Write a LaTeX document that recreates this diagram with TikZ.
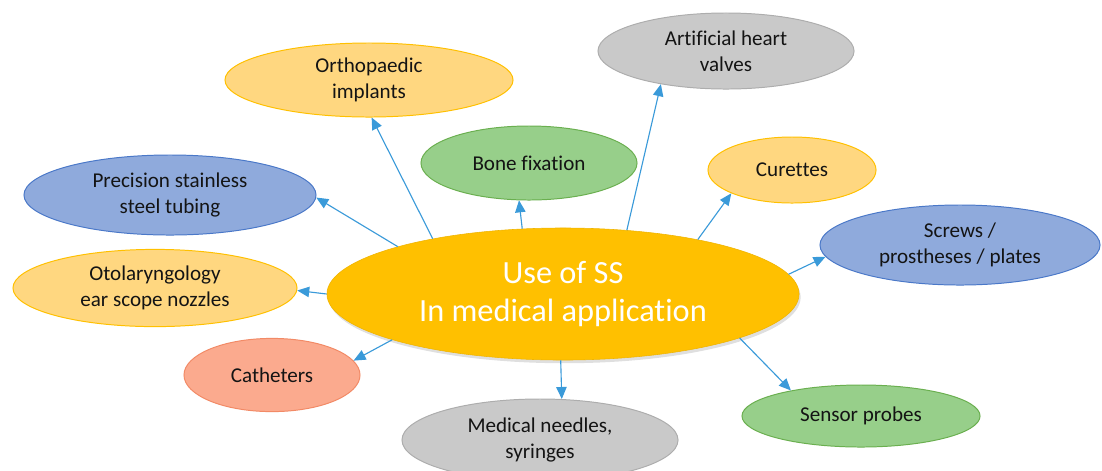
\documentclass[tikz,border=0pt]{standalone}
\usepackage{fontspec}
\setmainfont{Carlito}[Ligatures={NoCommon}]
\usepackage{tikz}
\usetikzlibrary{arrows.meta,shapes.geometric,shadows}
\definecolor{amber}{HTML}{FFC000}
\definecolor{amberline}{HTML}{F0B400}
\definecolor{palegold}{HTML}{FFD780}
\definecolor{paleline}{HTML}{FFC000}
\definecolor{ashfill}{HTML}{C9C9C9}
\definecolor{ashline}{HTML}{ADADAD}
\definecolor{leaffill}{HTML}{97CF8A}
\definecolor{leafline}{HTML}{6AAF4F}
\definecolor{steelfill}{HTML}{8FAADC}
\definecolor{steelline}{HTML}{4A78C8}
\definecolor{warmfill}{HTML}{FBAA8E}
\definecolor{warmline}{HTML}{F28A66}
\definecolor{arrowblue}{HTML}{3A9AD9}

\begin{document}
\begin{tikzpicture}[x=0.025cm,y=-0.025cm,
  bubble/.style={ellipse,inner sep=0pt,align=center,line width=0.7pt,text=black!92,font=\fontsize{15}{18.5}\selectfont},
  core/.style={ellipse,inner sep=0pt,align=center,draw=amberline,fill=amber,text=white,font=\fontsize{23}{27}\selectfont,
    drop shadow={opacity=0.25,shadow xshift=0.4mm,shadow yshift=-0.8mm}},
  pale/.style={bubble,draw=paleline,fill=palegold},
  ash/.style={bubble,draw=ashline,fill=ashfill},
  leaf/.style={bubble,draw=leafline,fill=leaffill},
  steel/.style={bubble,draw=steelline,fill=steelfill},
  warm/.style={bubble,draw=warmline,fill=warmfill},
  arr/.style={-{Triangle[length=3mm,width=2.6mm]},line width=0.8pt,color=arrowblue}
]
  \useasboundingbox (0,0) rectangle (1102,470);
  \node[core,minimum width=11.8cm,minimum height=3.3cm] (use) at (563,294) {Use of SS\\In medical application};
  \node[pale,minimum width=7.2cm,minimum height=1.85cm] (ortho) at (369,80) {Orthopaedic\\implants};
  \node[ash,minimum width=6.4cm,minimum height=1.9cm] (heart) at (726,51) {Artificial heart\\valves};
  \node[leaf,minimum width=5.4cm,minimum height=1.85cm] (bone) at (529,163) {Bone fixation};
  \node[pale,minimum width=4.2cm,minimum height=1.65cm] (curette) at (792,170) {Curettes};
  \node[steel,minimum width=7.3cm,minimum height=2cm] (tubing) at (170,195) {Precision stainless\\steel tubing};
  \node[steel,minimum width=7cm,minimum height=2cm] (screw) at (960,245) {Screws /\\prostheses / plates};
  \node[pale,minimum width=7.1cm,minimum height=1.93cm] (oto) at (155,288) {Otolaryngology\\ear scope nozzles};
  \node[warm,minimum width=4.4cm,minimum height=1.83cm] (cath) at (272,375) {Catheters};
  \node[ash,minimum width=6.9cm,minimum height=2.05cm] (needle) at (540,440) {Medical needles,\\syringes};
  \node[leaf,minimum width=5.95cm,minimum height=1.55cm] (probe) at (861,416) {Sensor probes};
  \draw[arr] (use.164)--(tubing.-1);
  \draw[arr] (use.157)--(ortho.274);
  \draw[arr] (use.122)--(bone.255);
  \draw[arr] (use.45)--(heart.207);
  \draw[arr] (use.22)--(curette.201);
  \draw[arr] (use.5)--(screw.185);
  \draw[arr] (use.180)--(oto.-1);
  \draw[arr] (use.195)--(cath.10);
  \draw[arr] (use.268)--(needle.62);
  \draw[arr] (use.-14)--(probe.160);
\end{tikzpicture}
\end{document}
